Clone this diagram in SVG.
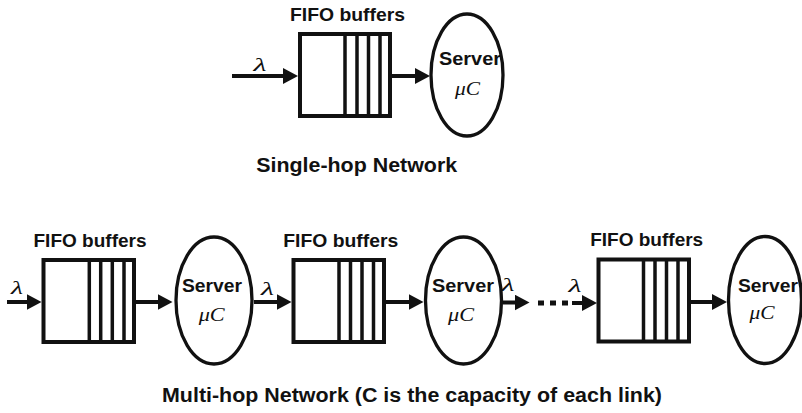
<svg xmlns="http://www.w3.org/2000/svg" width="802" height="413" viewBox="0 0 802 413">
<defs>
<style>
.box{fill:#fff;stroke:#111;stroke-width:4}
.slot{stroke:#111;stroke-width:3.5}
.srv{fill:#fff;stroke:#111;stroke-width:3.3}
.arr{stroke:#111;stroke-width:4;fill:none}
.lbl{font-family:"Liberation Sans",Arial,sans-serif;font-weight:bold;fill:#111;text-anchor:middle}
.math{font-family:"Liberation Serif","Times New Roman",serif;font-style:italic;fill:#111;text-anchor:middle}
</style>
<marker id="ah" markerUnits="userSpaceOnUse" markerWidth="16" markerHeight="17" refX="4" refY="8" orient="auto">
<path d="M0,0 L15,8 L0,16 z" fill="#111"/>
</marker>
</defs>

<g id="connectors">
<line class="arr" x1="232" y1="76" x2="287" y2="76" marker-end="url(#ah)"/>
<line class="arr" x1="392" y1="76" x2="419" y2="76" marker-end="url(#ah)"/>
<line class="arr" x1="7" y1="302" x2="30.5" y2="302" marker-end="url(#ah)"/>
<line class="arr" x1="136" y1="302" x2="161.5" y2="302" marker-end="url(#ah)"/>
<line class="arr" x1="254" y1="302" x2="280.5" y2="302" marker-end="url(#ah)"/>
<line class="arr" x1="386" y1="302" x2="412.5" y2="302" marker-end="url(#ah)"/>
<line class="arr" x1="503" y1="302.5" x2="518.5" y2="302.5" marker-end="url(#ah)"/>
<line x1="538" y1="303" x2="568" y2="303" stroke="#111" stroke-width="5" stroke-dasharray="6 6"/>
<line class="arr" x1="572" y1="303" x2="586" y2="303" marker-end="url(#ah)"/>
<line class="arr" x1="691" y1="302" x2="716" y2="302" marker-end="url(#ah)"/>
</g>

<g id="lambda-labels">
<text class="math" x="260" y="70.5" font-size="19" textLength="13" lengthAdjust="spacingAndGlyphs">λ</text>
<text class="math" x="17" y="293.5" font-size="19" textLength="12" lengthAdjust="spacingAndGlyphs">λ</text>
<text class="math" x="267.5" y="294.5" font-size="19" textLength="13" lengthAdjust="spacingAndGlyphs">λ</text>
<text class="math" x="508" y="290.5" font-size="19" textLength="13" lengthAdjust="spacingAndGlyphs">λ</text>
<text class="math" x="575" y="292" font-size="19" textLength="13" lengthAdjust="spacingAndGlyphs">λ</text>
</g>

<g id="buffer-top">
<text class="lbl" x="347.5" y="20.5" font-size="18" textLength="115" lengthAdjust="spacingAndGlyphs">FIFO buffers</text>
<rect class="box" x="300" y="34" width="90" height="82"/>
<line class="slot" x1="345" y1="34" x2="345" y2="116"/>
<line class="slot" x1="357" y1="34" x2="357" y2="116"/>
<line class="slot" x1="368.5" y1="34" x2="368.5" y2="116"/>
<line class="slot" x1="380" y1="34" x2="380" y2="116"/>
</g>

<g id="server-top">
<ellipse class="srv" cx="467" cy="75" rx="36" ry="61"/>
<text class="lbl" x="470" y="65" font-size="18" textLength="62" lengthAdjust="spacingAndGlyphs">Server</text>
<text class="math" x="467.5" y="94.5" font-size="18" textLength="25" lengthAdjust="spacingAndGlyphs">μC</text>
</g>

<g id="caption-single">
<text class="lbl" x="356.7" y="172" font-size="19.5" textLength="201" lengthAdjust="spacingAndGlyphs">Single-hop Network</text>
</g>

<g id="buffer-1">
<text class="lbl" x="90" y="246.5" font-size="18" textLength="113" lengthAdjust="spacingAndGlyphs">FIFO buffers</text>
<rect class="box" x="43.5" y="260" width="90.5" height="82"/>
<line class="slot" x1="89.3" y1="260" x2="89.3" y2="342"/>
<line class="slot" x1="100.7" y1="260" x2="100.7" y2="342"/>
<line class="slot" x1="112.3" y1="260" x2="112.3" y2="342"/>
<line class="slot" x1="124" y1="260" x2="124" y2="342"/>
</g>

<g id="server-1">
<ellipse class="srv" cx="214" cy="300.5" rx="38" ry="63.5"/>
<text class="lbl" x="212" y="292" font-size="18" textLength="60" lengthAdjust="spacingAndGlyphs">Server</text>
<text class="math" x="211.7" y="320.5" font-size="18" textLength="26" lengthAdjust="spacingAndGlyphs">μC</text>
</g>

<g id="buffer-2">
<text class="lbl" x="340.8" y="246.5" font-size="18" textLength="115" lengthAdjust="spacingAndGlyphs">FIFO buffers</text>
<rect class="box" x="293.5" y="260" width="90.5" height="82"/>
<line class="slot" x1="339" y1="260" x2="339" y2="342"/>
<line class="slot" x1="350.5" y1="260" x2="350.5" y2="342"/>
<line class="slot" x1="362" y1="260" x2="362" y2="342"/>
<line class="slot" x1="373.5" y1="260" x2="373.5" y2="342"/>
</g>

<g id="server-2">
<ellipse class="srv" cx="463.5" cy="300.5" rx="38" ry="63.5"/>
<text class="lbl" x="463" y="292" font-size="18" textLength="62" lengthAdjust="spacingAndGlyphs">Server</text>
<text class="math" x="461" y="320.5" font-size="18" textLength="26" lengthAdjust="spacingAndGlyphs">μC</text>
</g>

<g id="buffer-3">
<text class="lbl" x="646.7" y="245.5" font-size="18" textLength="113" lengthAdjust="spacingAndGlyphs">FIFO buffers</text>
<rect class="box" x="598.5" y="259.5" width="90.5" height="82"/>
<line class="slot" x1="643.5" y1="259.5" x2="643.5" y2="341.5"/>
<line class="slot" x1="655" y1="259.5" x2="655" y2="341.5"/>
<line class="slot" x1="666.5" y1="259.5" x2="666.5" y2="341.5"/>
<line class="slot" x1="678" y1="259.5" x2="678" y2="341.5"/>
</g>

<g id="server-3">
<ellipse class="srv" cx="765" cy="300" rx="36.5" ry="63.5"/>
<text class="lbl" x="768" y="292" font-size="18" textLength="60" lengthAdjust="spacingAndGlyphs">Server</text>
<text class="math" x="762" y="319" font-size="18" textLength="25" lengthAdjust="spacingAndGlyphs">μC</text>
</g>

<g id="caption-multi">
<text class="lbl" x="412" y="401.5" font-size="19.5" textLength="500" lengthAdjust="spacingAndGlyphs">Multi-hop Network (C is the capacity of each link)</text>
</g>
</svg>
